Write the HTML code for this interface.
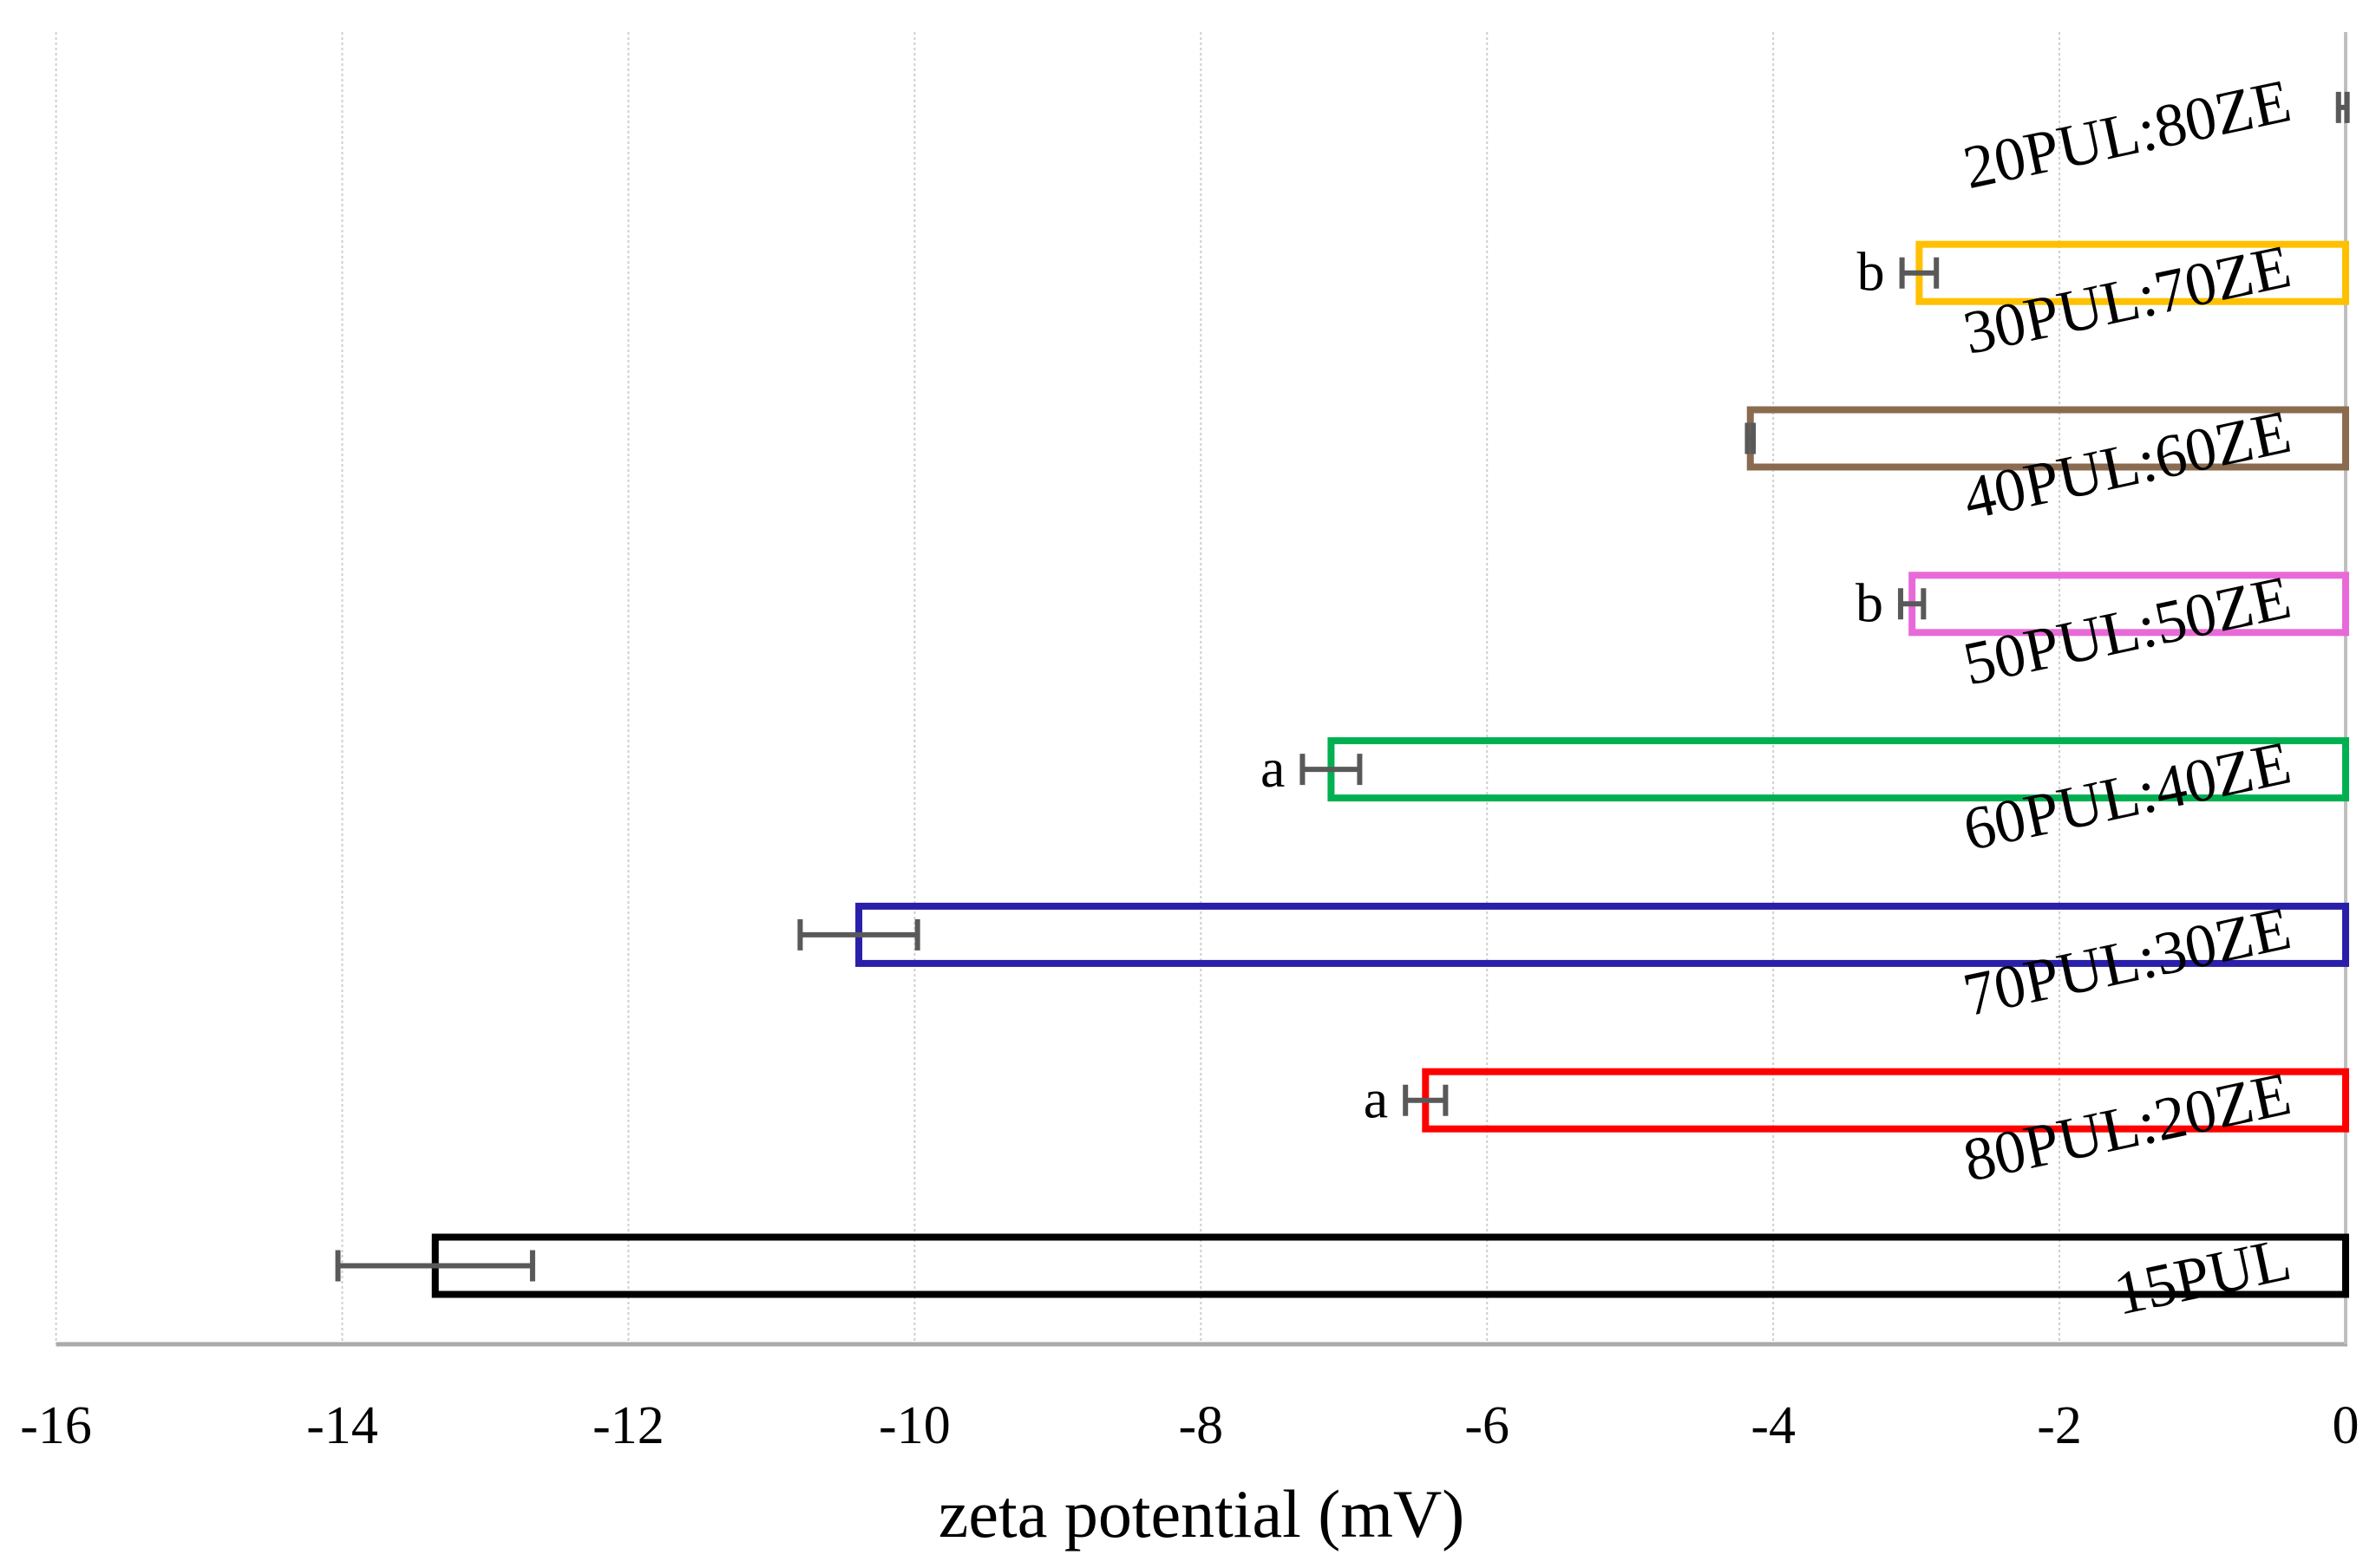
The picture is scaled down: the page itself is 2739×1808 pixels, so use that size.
<!DOCTYPE html>
<html><head><meta charset="utf-8"><style>
html,body{margin:0;padding:0;background:#fff;}
svg{display:block;font-family:"Liberation Serif",serif;}
</style></head><body>
<svg id="chart" width="2739" height="1808" viewBox="0 0 2739 1808" xmlns="http://www.w3.org/2000/svg">
<g id="grid"></g>
<g id="bars"></g>
<g id="labels"></g>
<g id="xticks"></g>
<text x="1385" y="1772" font-size="78" text-anchor="middle">zeta potential (mV)</text>
</svg>
<script>
const categories = ["15PUL","80PUL:20ZE","70PUL:30ZE","60PUL:40ZE","50PUL:50ZE","40PUL:60ZE","30PUL:70ZE","20PUL:80ZE"];
const values = [-13.35,-6.43,-10.39,-7.09,-3.03,-4.16,-2.98,-0.02];
const errors = [0.68,0.14,0.41,0.2,0.08,0.02,0.12,0.03];
const letters = ["","a","","a","b","","b",""];
const colors = ["#000000","#ff0000","#2a1fa8","#00b050","#e86ad8","#8b6b4f","#ffc000","#888888"];
const ticks = [-16,-14,-12,-10,-8,-6,-4,-2,0];

const NS="http://www.w3.org/2000/svg";
const X0=64.6, X1=2704, YT=37, YB=1550;
const xs=v=>X0+(v+16)/16*(X1-X0);
const band=190.8;
const yc=i=>1459.5-band*i;
function mk(tag,attrs,parent){const e=document.createElementNS(NS,tag);for(const k in attrs)e.setAttribute(k,attrs[k]);parent.appendChild(e);return e;}
const grid=document.getElementById('grid'),bars=document.getElementById('bars'),labels=document.getElementById('labels'),xt=document.getElementById('xticks');
ticks.forEach(t=>{
  if(t<0){const l=mk('line',{x1:xs(t),x2:xs(t),y1:YT,y2:YB,stroke:'#cfcfcf','stroke-width':2,'stroke-dasharray':'3,3'},grid);
  
  }
  const tx=mk('text',{x:xs(t),y:1664,'font-size':62,'text-anchor':'middle'},xt);
  tx.textContent=t;
  
  
});
const ax=mk('line',{x1:X0,x2:X1+2,y1:YB,y2:YB,stroke:'#aaaaaa','stroke-width':5},grid);


const vax=mk('line',{x1:X1,x2:X1,y1:YT,y2:YB,stroke:'#bfbfbf','stroke-width':4},grid);


const bh=66;
categories.forEach((c,i)=>{
  const y=yc(i), x=xs(values[i]);
  if(i<7){const r=mk('rect',{x:x,y:y-bh/2,width:xs(0)-x,height:bh,fill:'none',stroke:colors[i],'stroke-width':8},bars);
  
  }
  const e1=xs(values[i]-errors[i]),e2=xs(values[i]+errors[i]);
  const eb=mk('path',{d:`M${e1},${y}H${e2}M${e1},${y-18}V${y+18}M${e2},${y-18}V${y+18}`,stroke:'#595959','stroke-width':6,fill:'none'},bars);
  
  
  if(letters[i]){const lt=mk('text',{x:e1-20,y:y+20,'font-size':64,'text-anchor':'end'},labels);
  lt.textContent=letters[i];
  
  }
  const tl=mk('text',{x:0,y:0,'font-size':71,'text-anchor':'end',transform:`translate(2644,${y+14}) rotate(-12)`},labels);
  tl.textContent=c;
  
  
});
</script>
</body></html>
